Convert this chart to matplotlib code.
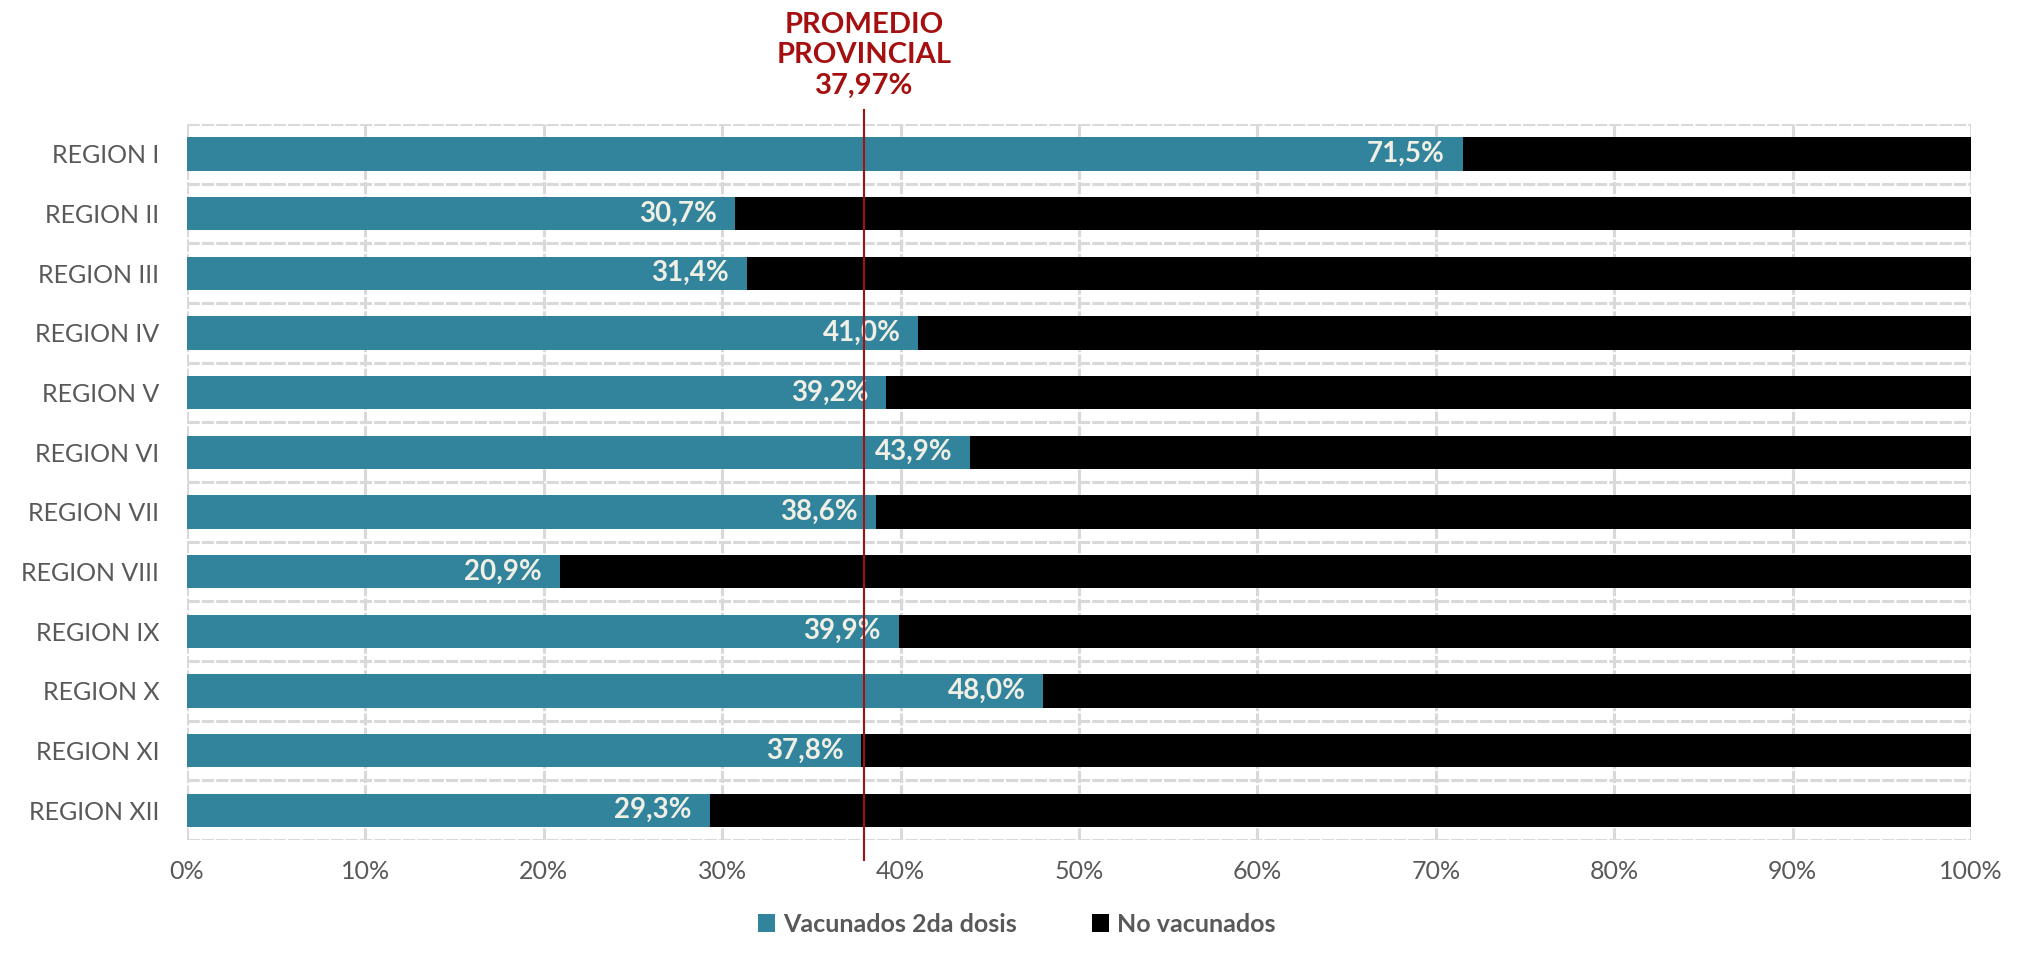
import matplotlib

matplotlib.use("Agg")

import matplotlib.pyplot as plt  # noqa: E402
import numpy as np  # noqa: E402

regions = ["REGION I", "REGION II", "REGION III", "REGION IV", "REGION V",
           "REGION VI", "REGION VII", "REGION VIII", "REGION IX", "REGION X",
           "REGION XI", "REGION XII"]
vacunados = [71.5, 30.7, 31.4, 41.0, 39.2, 43.9, 38.6, 20.9, 39.9, 48.0, 37.8, 29.3]
no_vacunados = [round(100 - v, 1) for v in vacunados]
promedio = 37.97
xticks = [0, 10, 20, 30, 40, 50, 60, 70, 80, 90, 100]

TEAL = "#31849b"
RED = "#a50f0f"
GRAY = "#595959"
GRID = "#d9d9d9"
plt.rcParams["font.family"] = ["Lato", "DejaVu Sans"]

fig = plt.figure(figsize=(20.33, 9.58), dpi=100)
ax = fig.add_axes([0.092, 0.123, 0.8775, 0.7475])

y = np.arange(len(regions))
ax.barh(y, vacunados, height=0.56, color=TEAL, label="Vacunados 2da dosis", zorder=3)
ax.barh(y, no_vacunados, left=vacunados, height=0.56, color="black",
        label="No vacunados", zorder=3)

for yi, v in zip(y, vacunados):
    ax.text(v - 1.0, yi, f"{v:.1f}%".replace(".", ","), ha="right", va="center",
            fontsize=20, fontweight="bold", color="#f0efe6", zorder=4)

ax.set_xlim(0, 100)
ax.set_ylim(len(regions) - 0.5, -0.5)
ax.set_xticks(xticks)
ax.set_xticklabels([f"{t}%" for t in xticks], fontsize=18, color=GRAY)
ax.set_yticks(y)
ax.set_yticklabels(regions, fontsize=18, color=GRAY)
ax.tick_params(length=0, pad=14)
ax.tick_params(axis="y", pad=20)

# grid: vertical at ticks, horizontal between categories
ax.grid(axis="x", color=GRID, linewidth=2.2, linestyle=(0, (4, 0.7)), zorder=0)
for b in np.arange(-0.5, len(regions), 1.0):
    ax.axhline(b, color=GRID, linewidth=2.2, linestyle=(0, (4, 0.7)), zorder=0)
for s in ax.spines.values():
    s.set_visible(False)

ax.axvline(promedio, ymin=-0.028, ymax=1.02, color=RED, linewidth=1.5,
           clip_on=False, zorder=5)
ax.text(promedio, 1.035, "PROMEDIO\nPROVINCIAL\n" + f"{promedio:.2f}%".replace(".", ","),
        transform=ax.get_xaxis_transform(), ha="center", va="bottom",
        fontsize=21, fontweight="bold", color=RED, linespacing=1.22)

leg = fig.legend(loc="lower center", bbox_to_anchor=(0.5, 0.0), ncol=2, frameon=False,
                 fontsize=18, handlelength=0.7, handleheight=0.7, handletextpad=0.3,
                 columnspacing=3)
for t in leg.get_texts():
    t.set_color(GRAY)
    t.set_fontweight("bold")

fig.savefig("out.png", dpi=100)
